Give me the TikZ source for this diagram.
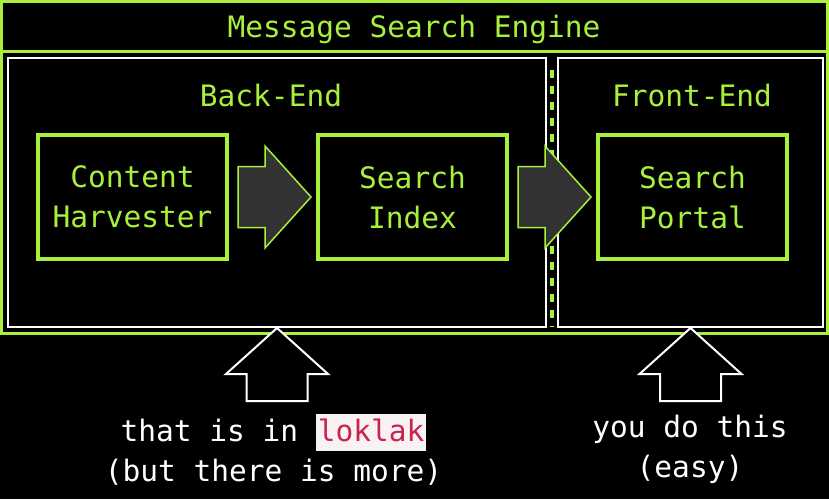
\documentclass[tikz,border=0pt]{standalone}
\usepackage{fontspec}
\setmonofont{DejaVu Sans Mono}
\usetikzlibrary{positioning}
\definecolor{lime}{RGB}{168,240,60}
\definecolor{arrowgray}{RGB}{50,50,50}
\definecolor{codebg}{RGB}{249,242,244}
\definecolor{codefg}{RGB}{199,37,78}
\newcommand{\codeword}[1]{{\setlength{\fboxsep}{2pt}\colorbox{codebg}{\vrule height 26pt depth 7pt width 0pt\color{codefg}#1}}}
\tikzset{
  every node/.style={font=\ttfamily\fontsize{29.5}{40}\selectfont, inner sep=0pt},
  component/.style={draw=lime, line width=4pt, text=lime, align=center, minimum width=189pt, minimum height=124pt},
  panel/.style={draw=white, line width=2pt, minimum height=269pt},
  heading/.style={text=lime, anchor=base},
  note/.style={text=white, align=center},
  flow/.style={draw=lime, fill=arrowgray, line width=1.5pt},
  pointer/.style={draw=white, fill=black, line width=2pt},
  fatarrow/.pic={\draw[pic actions] (0,0) -- (-46,-51) -- (-46,-30.5) -- (-73,-30.5) -- (-73,30.5) -- (-46,30.5) -- (-46,51) -- cycle;}
}
\begin{document}
\begin{tikzpicture}[x=1pt,y=-1pt]
\useasboundingbox (0,0) rectangle (829,499);
\fill[black] (0,0) rectangle (829,499);
% outer frame
\draw[lime, line width=3pt] (1.5,1.5) rectangle (827,333);
\draw[lime, line width=3pt] (1.5,51) -- (827,51);
\node[heading] (title) at (414,37) {Message Search Engine};
% back and front
\node[panel, minimum width=538pt] (back) at (277,192.5) {};
\node[panel, minimum width=265pt] (front) at (690.5,192.5) {};
\draw[lime, line width=4pt, dash pattern=on 8pt off 8pt] (552,70) -- (552,327);
\node[heading] (backlbl) at (271,106) {Back-End};
\node[heading] (frontlbl) at (692,106) {Front-End};
\node[component] (harvester) at (132.5,197) {Content\\Harvester};
\node[component, right=87pt of harvester] (index) {Search\\Index};
\node[component, right=87pt of index] (portal) {Search\\Portal};
\pic[flow, xshift=-5pt] at (index.west) {fatarrow};
\pic[flow, xshift=-5pt] at (portal.west) {fatarrow};
% notes below
\pic[pointer, rotate=90] at (back.south) {fatarrow};
\pic[pointer, rotate=90] at (front.south) {fatarrow};
\node[note] (loklaknote) at (273.5,449.5) {that is in \codeword{loklak}\\(but there is more)};
\node[note] (easynote) at (690,449.3) {you do this\\(easy)};
\end{tikzpicture}
\end{document}
